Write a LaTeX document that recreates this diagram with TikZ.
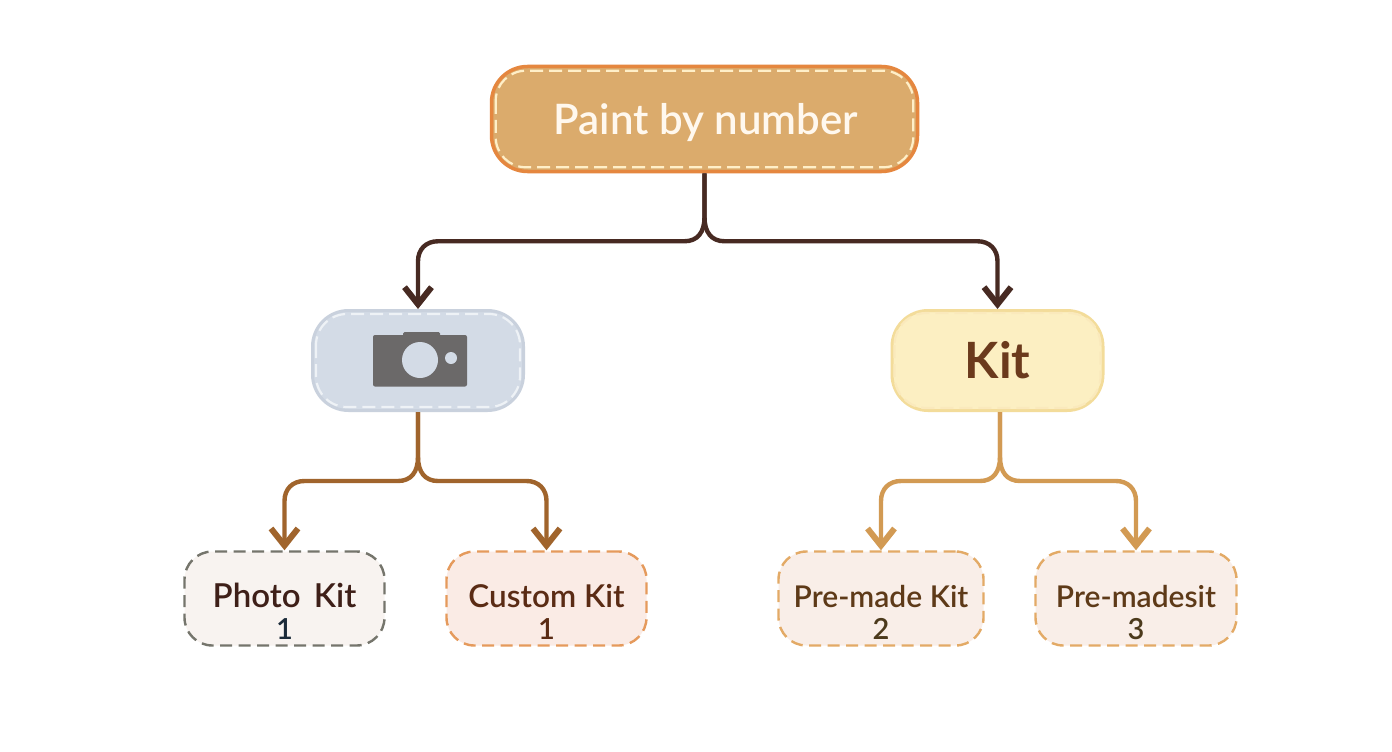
\documentclass[tikz,border=0pt]{standalone}
\usepackage{fontspec}
\setmainfont{Lato}
\newfontfamily\medfont{Lato Semibold}
\newfontfamily\boldfont{Lato Bold}
\usetikzlibrary{arrows.meta,calc}
\definecolor{rootfill}{HTML}{DBAB6C}
\definecolor{rootedge}{HTML}{E5873F}
\definecolor{rootdash}{HTML}{FFEFC8}
\definecolor{rootink}{HTML}{FFF8EE}
\definecolor{photofill}{HTML}{D3DBE6}
\definecolor{photoedge}{HTML}{C9D1DD}
\definecolor{photodash}{HTML}{EEF2F6}
\definecolor{kitfill}{HTML}{FCEFC2}
\definecolor{kitedge}{HTML}{F3DC9A}
\definecolor{kitdash}{HTML}{FAE9BC}
\definecolor{kitink}{HTML}{6B3A1C}
\definecolor{camera}{HTML}{6B6969}
\definecolor{darkline}{HTML}{472A22}
\definecolor{brownline}{HTML}{A0642C}
\definecolor{tanline}{HTML}{D29A53}
\definecolor{greydash}{HTML}{75756C}
\definecolor{orangedash}{HTML}{E59A5C}
\definecolor{tandash}{HTML}{E3AA66}
\definecolor{leafa}{HTML}{F8F3F0}
\definecolor{leafb}{HTML}{FAEBE5}
\definecolor{leafc}{HTML}{F9EEE8}
\definecolor{inka}{HTML}{3E1F18}
\definecolor{inkb}{HTML}{5A2B14}
\definecolor{inkc}{HTML}{5E3A18}
\definecolor{numa}{HTML}{1C2B3A}
\definecolor{numc}{HTML}{4C3A1C}
\newcommand{\leaftext}[2]{\rule{0pt}{50pt}{\fontsize{#2}{33}\selectfont #1}\\}
\newcommand{\leafnum}[1]{\rule{0pt}{31pt}{\fontsize{29}{29}\selectfont #1}}
\tikzset{
  x=1pt,y=-1pt,
  rootbox/.style={draw=rootedge,fill=rootfill,line width=3.5pt,rounded corners=36pt,
    minimum width=426pt,minimum height=105pt,text=rootink,font=\medfont\fontsize{42}{42}\selectfont},
  midbox/.style={line width=3pt,rounded corners=36pt,minimum width=211pt,minimum height=100pt},
  leafbox/.style={line width=2.4pt,rounded corners=28pt,minimum height=94pt,dash pattern=on 12pt off 6.5pt,
    align=center,font=\medfont\fontsize{32}{1}\selectfont,inner ysep=0pt},
  stitch/.style={dash pattern=on 13pt off 6pt,line width=2.2pt},
  flow/.style={line width=4.4pt,-{Straight Barb[length=17pt,width=27pt,line width=6pt]},shorten >=0pt},
}
% #1 source, #2 target, #3 bar offset from source, #4 side sign, #5 colour
\newcommand{\forkline}[5]{%
  \draw[flow,draw=#5,color=#5] let \p1=(#1), \p2=(#2) in
    (\p1) -- (\x1,{\y1-(#3-24pt)})
    .. controls (\x1,{\y1-(#3-9pt)}) and ({\x1+#4*7pt},{\y1-#3}) .. ({\x1+#4*20pt},{\y1-#3})
    -- ({\x2-#4*20pt},{\y1-#3})
    .. controls ({\x2-#4*8pt},{\y1-#3}) and (\x2,{\y1-(#3+8pt)}) .. (\x2,{\y1-(#3+20pt)})
    -- (\p2);
}
\newcommand{\innerdash}[4]{%
  \draw[stitch,draw=#4,rounded corners=#3] ($(#1.north west)+(#2,-#2)$) rectangle ($(#1.south east)+(-#2,#2)$);
}
\begin{document}
\begin{tikzpicture}
\useasboundingbox (0,0) rectangle (1392,752);
\fill[white] (0,0) rectangle (1392,752);
% boxes
\node[rootbox] (root) at (704.5,119) {\hspace{3pt}\rule{0pt}{38pt}Paint by number};
\innerdash{root}{6pt}{30pt}{rootdash}
\node[midbox,draw=photoedge,fill=photofill] (photo) at (418,360.5) {};
\innerdash{photo}{5pt}{31pt}{photodash}
\node[midbox,draw=kitedge,fill=kitfill,text=kitink,font=\boldfont\fontsize{50}{50}\selectfont] (kit) at (997.5,360.5) {Kit};
\innerdash{kit}{4pt}{32pt}{kitdash}
\node[leafbox,draw=greydash,fill=leafa,minimum width=200pt,text=inka] (pk) at (284.5,598.5) {\leaftext{Photo\hspace{0.4em}Kit}{33}\leafnum{\color{numa}1}};
\node[leafbox,draw=orangedash,fill=leafb,minimum width=200pt,text=inkb] (ck) at (546.5,598.5) {\leaftext{Custom Kit}{31.5}\leafnum{1}};
\node[leafbox,draw=tandash,fill=leafc,minimum width=205pt,text=inkc] (pm) at (881,598.5) {\leaftext{Pre-made Kit}{30}\leafnum{\color{numc}2}};
\node[leafbox,draw=tandash,fill=leafc,minimum width=201pt,text=inkc] (ps) at (1136,598.5) {\leaftext{Pre-madesit}{30}\leafnum{\color{numc}3}};
% camera
\fill[camera,rounded corners=2pt] (373,335) rectangle (467,386.5);
\fill[camera,rounded corners=1.5pt] (403,332) rectangle (440,338);
\fill[photofill] (420,360) circle (18);
\fill[photofill] (451,358) circle (6);
% connectors
\coordinate (kitout) at ($(kit.south)+(2.5,0)$);
\forkline{root.south}{photo.north}{68pt}{-1}{darkline}
\forkline{root.south}{kit.north}{68pt}{1}{darkline}
\forkline{photo.south}{pk.north}{69pt}{-1}{brownline}
\forkline{photo.south}{ck.north}{69pt}{1}{brownline}
\forkline{kitout}{pm.north}{69pt}{-1}{tanline}
\forkline{kitout}{ps.north}{69pt}{1}{tanline}
\end{tikzpicture}
\end{document}
